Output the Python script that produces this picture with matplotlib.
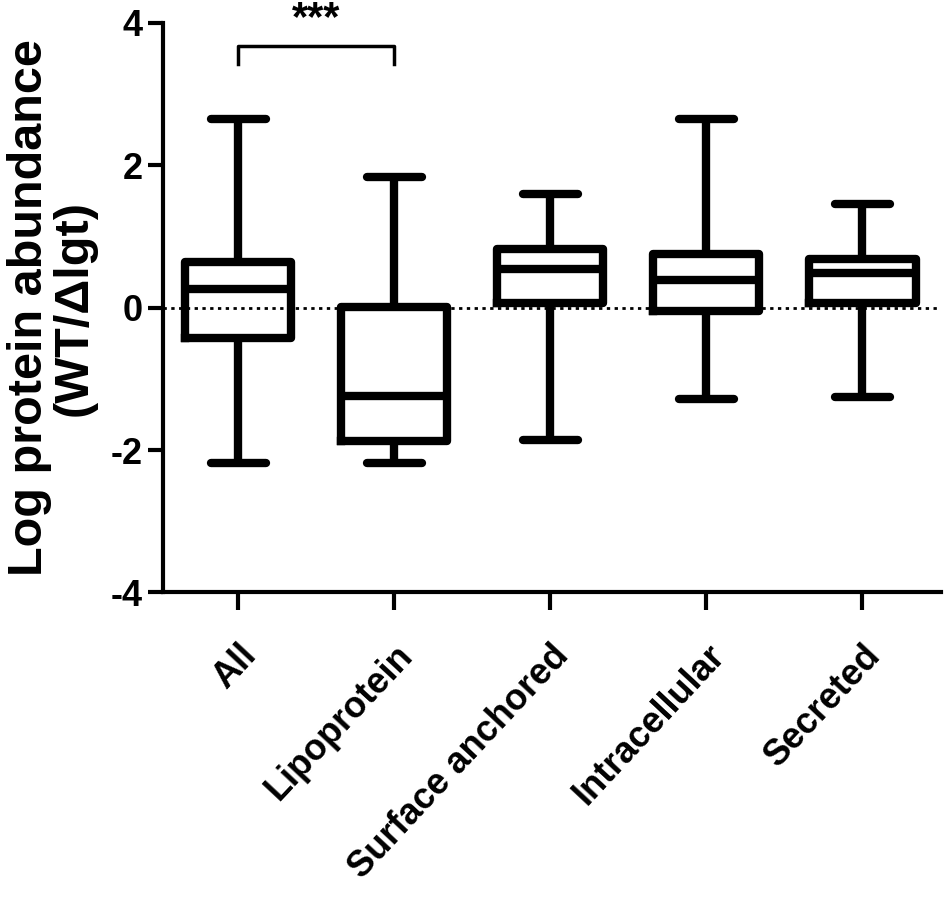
import matplotlib
matplotlib.use("Agg")
import matplotlib.pyplot as plt

plt.rcParams["font.family"] = ["Liberation Sans", "DejaVu Sans"]
plt.rcParams["font.weight"] = "bold"
plt.rcParams["axes.unicode_minus"] = False

categories = ["All", "Lipoprotein", "Surface anchored", "Intracellular", "Secreted"]
whisker_low = [-2.18, -2.18, -1.86, -1.29, -1.25]
q1 = [-0.43, -1.88, 0.06, -0.04, 0.06]
median = [0.26, -1.24, 0.54, 0.39, 0.48]
q3 = [0.64, 0.01, 0.82, 0.76, 0.68]
whisker_high = [2.65, 1.83, 1.59, 2.65, 1.46]

sig_pair = (0, 1)
sig_label = "***"
sig_y = 3.67
sig_drop = 0.25

fig = plt.figure(figsize=(9.5, 9.17), dpi=100)
ax = fig.add_axes([0.172, 0.354, 0.818, 0.621])

stats = []
for i, name in enumerate(categories):
    stats.append({
        "label": name,
        "whislo": whisker_low[i],
        "q1": q1[i],
        "med": median[i],
        "q3": q3[i],
        "whishi": whisker_high[i],
        "fliers": [],
    })

lw = 6
ax.bxp(
    stats, positions=range(len(categories)), widths=0.68, showfliers=False,
    boxprops=dict(color="black", linewidth=lw, solid_joinstyle="round"),
    medianprops=dict(color="black", linewidth=lw, solid_capstyle="butt"),
    whiskerprops=dict(color="black", linewidth=lw, solid_capstyle="butt"),
    capprops=dict(color="black", linewidth=lw, solid_capstyle="round"),
    capwidths=0.35,
    zorder=3,
)

ax.axhline(0, color="black", linestyle=(0, (1.2, 1.6)), linewidth=2, zorder=2)

# significance bracket
x0, x1 = sig_pair
ax.plot([x0, x0, x1, x1], [sig_y - sig_drop, sig_y, sig_y, sig_y - sig_drop],
        color="black", linewidth=2.5, clip_on=False)
ax.text((x0 + x1) / 2, sig_y + 0.1, sig_label, ha="center", va="bottom",
        fontsize=30, fontweight="bold", clip_on=False)

ax.set_xlim(-0.48, 4.5)
ax.set_ylim(-4, 4)
ax.set_yticks([-4, -2, 0, 2, 4])
ax.set_xticks(range(len(categories)))
ax.set_xticklabels(categories, rotation=47, ha="right", rotation_mode="anchor",
                   fontsize=32, fontweight="bold")
ax.tick_params(axis="both", width=3, labelsize=26, direction="out")
ax.tick_params(axis="x", length=13, pad=20)
ax.tick_params(axis="y", length=11, pad=4)
for lab in ax.get_yticklabels():
    lab.set_fontweight("bold")

for side in ["top", "right"]:
    ax.spines[side].set_visible(False)
for side in ["left", "bottom"]:
    ax.spines[side].set_linewidth(3)

ax.set_ylabel("Log protein abundance\n(WT/\u0394lgt)", fontsize=35, fontweight="bold",
              linespacing=1.0, labelpad=10)

fig.savefig("out.png", dpi=100, facecolor="white")
